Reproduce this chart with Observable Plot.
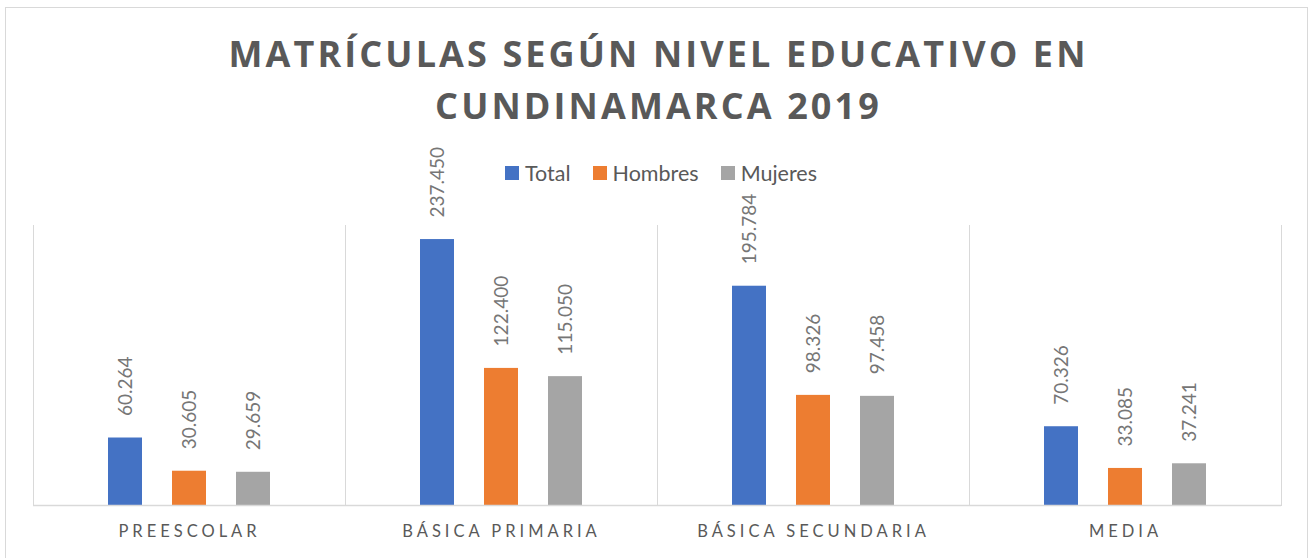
<!DOCTYPE html>
<html>
<head>
<meta charset="utf-8">
<script src="https://cdn.jsdelivr.net/npm/d3@7"></script>
<script src="https://cdn.jsdelivr.net/npm/@observablehq/plot@0.6"></script>
<style>
  html, body { margin: 0; padding: 0; background: #fff; }
  #wrap { position: relative; width: 1314px; height: 558px; overflow: hidden; }
  #border { position: absolute; left: 5px; top: 7px; width: 1303px; height: 560px; border: 1px solid #d9d9d9; box-sizing: border-box; }
  #title { position: absolute; left: 5px; width: 1304px; top: 28px; text-align: center;
    font-family: "Open Sans", sans-serif; font-weight: 700; font-size: 36px; line-height: 52px;
    letter-spacing: 3.1px; color: #595959; padding-left: 3px; box-sizing: border-box; }
  #legend { position: absolute; left: 0; width: 1314px; top: 160px; display: flex; justify-content: center;
    font-family: Lato, sans-serif; font-size: 21.5px; line-height: 26px; color: #595959; padding-left: 8px; box-sizing: border-box; }
  #legend .item { display: flex; align-items: center; margin: 0 11px; }
  #legend .sw { width: 14px; height: 14px; margin-right: 6px; }
  #chart { position: absolute; left: 0; top: 140px; }
  #chart g[aria-label="fx-axis tick label"] text { letter-spacing: 4px; }
</style>
</head>
<body>
<div id="wrap">
  <div id="border"></div>
  <div id="title"></div>
  <div id="chart"></div>
  <div id="legend"></div>
</div>
<script>
const titleLines = ["MATRÍCULAS SEGÚN NIVEL EDUCATIVO EN", "CUNDINAMARCA 2019"];
const categories = ["PREESCOLAR", "BÁSICA PRIMARIA", "BÁSICA SECUNDARIA", "MEDIA"];
const series = ["Total", "Hombres", "Mujeres"];
const colors = ["#4472C4", "#ED7D31", "#A5A5A5"];
const total = [60264, 237450, 195784, 70326];
const hombres = [30605, 122400, 98326, 33085];
const mujeres = [29659, 115050, 97458, 37241];

const valuesBySeries = [total, hombres, mujeres];
const rows = [];
categories.forEach((cat, i) => {
  series.forEach((s, j) => rows.push({cat, serie: s, value: valuesBySeries[j][i]}));
});

const fmt = d3.formatLocale({decimal: ",", thousands: ".", grouping: [3], currency: ["$", ""]}).format(",d");

document.getElementById("title").innerHTML = titleLines.join("<br>");
const legend = document.getElementById("legend");
series.forEach((s, j) => {
  const it = document.createElement("div");
  it.className = "item";
  it.innerHTML = `<span class="sw" style="background:${colors[j]}"></span><span>${s}</span>`;
  legend.appendChild(it);
});

const chart = Plot.plot({
  width: 1314,
  height: 418,
  marginTop: 85,
  marginBottom: 53,
  marginLeft: 33,
  marginRight: 33,
  style: {fontFamily: "Lato, sans-serif", background: "transparent"},
  fx: {domain: categories, padding: 0, label: null},
  x: {domain: series, paddingInner: 0.469, paddingOuter: 1.172, axis: null},
  y: {domain: [0, 250000], axis: null},
  color: {domain: series, range: colors},
  marks: [
    Plot.frame({anchor: "left", stroke: "#d9d9d9", strokeOpacity: 1}),
    Plot.frame({anchor: "right", stroke: "#d9d9d9", strokeOpacity: 1}),
    Plot.barY(rows, {fx: "cat", x: "serie", y: "value", fill: "serie"}),
    Plot.ruleY([0], {stroke: "#d9d9d9", strokeWidth: 1.5}),
    Plot.text(rows, {fx: "cat", x: "serie", y: "value", text: d => fmt(d.value), rotate: -90,
      textAnchor: "start", lineAnchor: "middle", dy: -22, fontSize: 19, fill: "#767676"}),
    Plot.axisFx({anchor: "bottom", tickSize: 0, tickPadding: 20, fontSize: 16.5, fill: "#595959", label: null})
  ]
});
document.getElementById("chart").appendChild(chart);
</script>
</body>
</html>
